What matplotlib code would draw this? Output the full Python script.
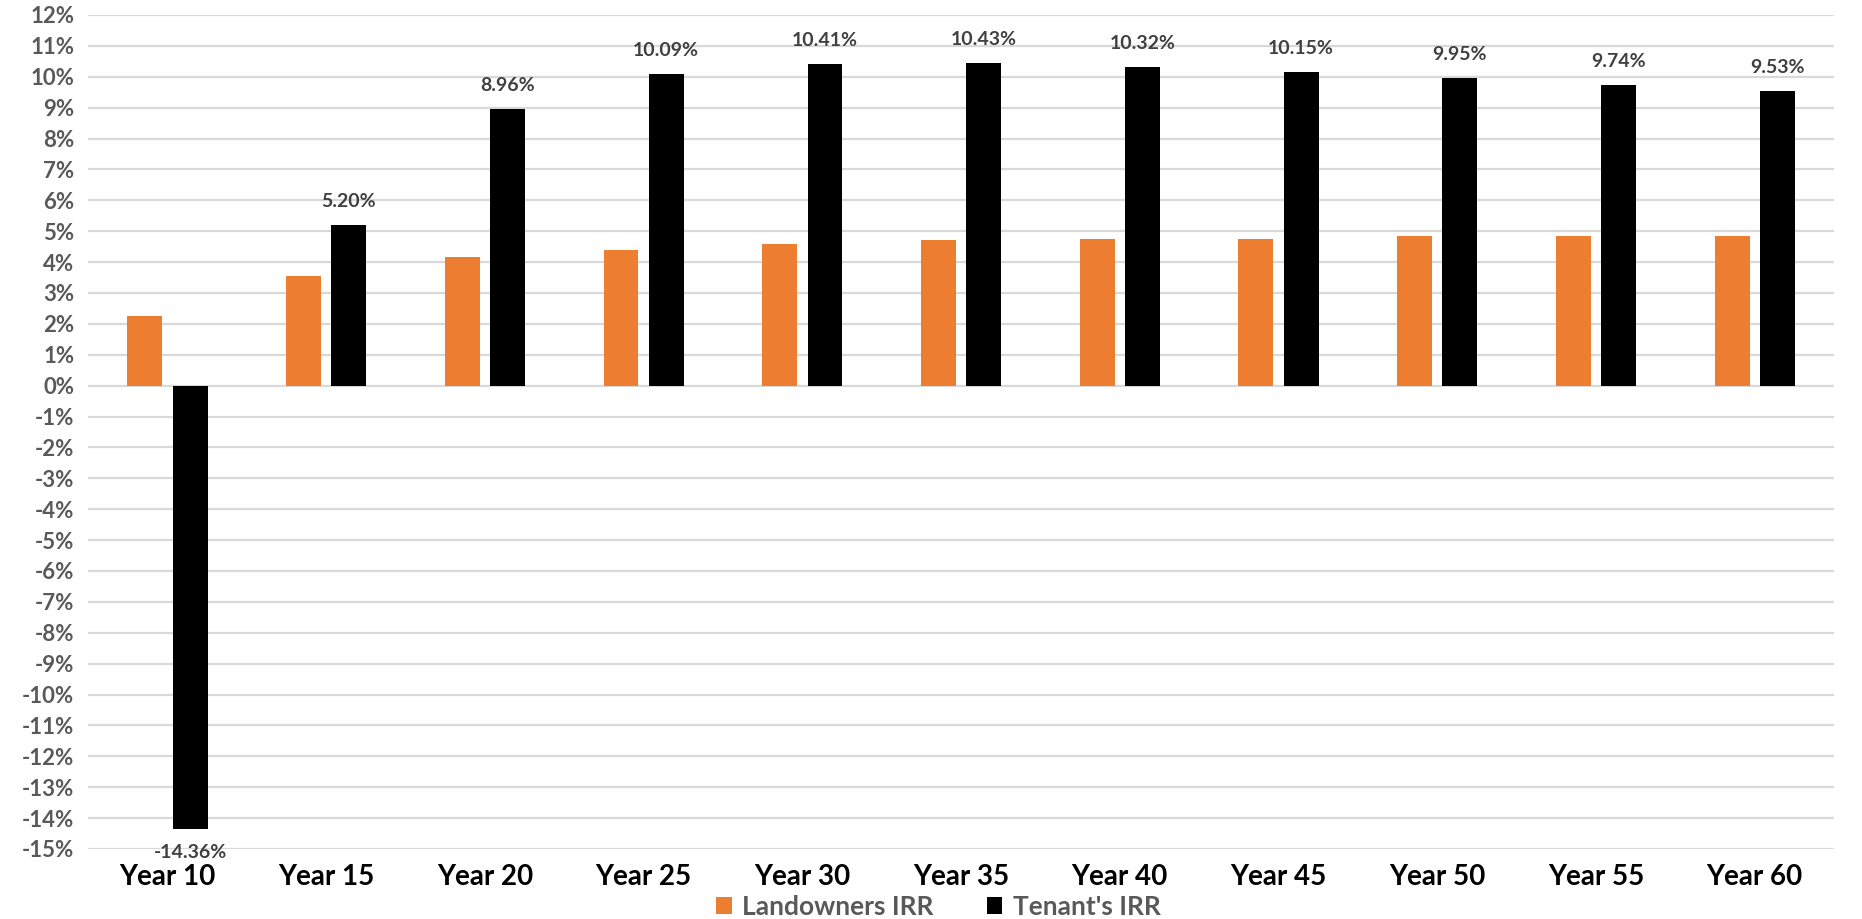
import numpy as np
import matplotlib
matplotlib.use("Agg")
import matplotlib.pyplot as plt
from matplotlib.ticker import FuncFormatter, MultipleLocator

years = ['Year 10', 'Year 15', 'Year 20', 'Year 25', 'Year 30', 'Year 35',
         'Year 40', 'Year 45', 'Year 50', 'Year 55', 'Year 60']
landowners_irr = [2.25, 3.55, 4.15, 4.4, 4.6, 4.7, 4.75, 4.75, 4.85, 4.85, 4.85]
tenant_irr = [-14.36, 5.20, 8.96, 10.09, 10.41, 10.43, 10.32, 10.15, 9.95, 9.74, 9.53]

plt.rcParams['font.family'] = ['Lato', 'DejaVu Sans']
plt.rcParams['font.weight'] = 'bold'

fig = plt.figure(figsize=(18.62, 9.19), dpi=100)
ax = fig.add_axes([0.0473, 0.0762, 0.9377, 0.9075])

x = np.arange(len(years))
w = 0.22
gap = 0.065
off = (w + gap) / 2
ax.bar(x - off, landowners_irr, w, color='#ED7D31', label='Landowners IRR', zorder=3)
ax.bar(x + off, tenant_irr, w, color='#000000', label="Tenant's IRR", zorder=3)

# data labels on tenant bars only
for xi, v in zip(x, tenant_irr):
    dy = 17 if v >= 0 else -17
    ax.annotate(f'{v:.2f}%', (xi + off, v), xytext=(0, dy), textcoords='offset points',
                ha='center', va='center', fontsize=14, color='#404040', fontweight='bold')

ax.set_xlim(-0.5, len(years) - 0.5)
ax.set_ylim(-15, 12)
ax.yaxis.set_major_locator(MultipleLocator(1))
ax.yaxis.set_major_formatter(FuncFormatter(lambda v, p: f'{v:.0f}%'))
ax.set_xticks(x)
ax.set_xticklabels(years, fontsize=20, fontweight='bold', color='black')
ax.tick_params(axis='y', labelsize=16, labelcolor='#595959', length=0, pad=10)
ax.tick_params(axis='x', length=0, pad=11)
ax.grid(axis='y', color='#D9D9D9', linewidth=1.6, zorder=0)
ax.set_axisbelow(True)
for s in ax.spines.values():
    s.set_visible(False)

leg = fig.legend(loc='lower center', bbox_to_anchor=(0.504, 0.0), ncol=2, frameon=False,
                 fontsize=19, handlelength=0.6, handleheight=0.6, handletextpad=0.4,
                 columnspacing=2.0, borderpad=0.0, borderaxespad=0.0)
for t in leg.get_texts():
    t.set_color('#595959')

fig.savefig('out.png', dpi=100)
